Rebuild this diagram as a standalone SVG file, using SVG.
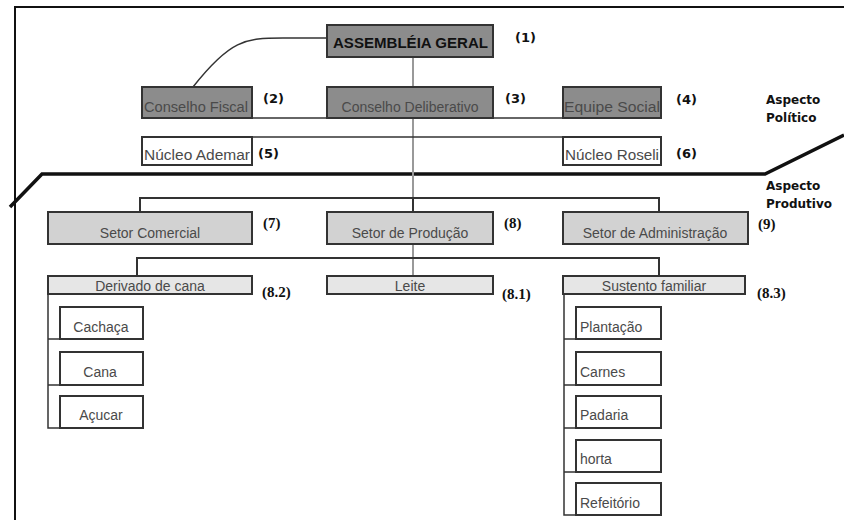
<svg xmlns="http://www.w3.org/2000/svg" width="844" height="520" viewBox="0 0 844 520">
<style>
.box{stroke:#333;stroke-width:2}
.dark{fill:#8c8c8c}
.mid{fill:#d2d2d2}
.light{fill:#e6e6e6}
.white{fill:#fff}
.t{font-family:"Liberation Sans",Arial,sans-serif;fill:#4a4a4a;font-size:14px}
.tb{font-family:"Liberation Sans",Arial,sans-serif;fill:#111;font-size:14px;font-weight:bold}
.num{font-family:"DejaVu Sans",sans-serif;font-weight:bold;font-size:13px;fill:#111}
.nums{font-family:"Liberation Serif","Times New Roman",serif;font-weight:bold;font-size:15px;fill:#111}
.asp{font-family:"DejaVu Sans",sans-serif;font-weight:bold;font-size:12px;fill:#111}
.ln{stroke:#333;stroke-width:2;fill:none}
.gl{stroke:#999;stroke-width:2;fill:none}
.thin{stroke:#333;stroke-width:1.5;fill:none}
</style>
<rect width="844" height="520" fill="#fff"/>
<g id="frame">
<path d="M15,520 V7 H844" stroke="#111" stroke-width="2" fill="none"/>
<path d="M10,207 L42,174 H765 L844,135" stroke="#111" stroke-width="3.5" fill="none"/>
</g>
<g id="connectors">
<path class="thin" d="M327,38 H283 C245,38 230,40 193,87"/>
<path class="gl" d="M413,57 V198"/>
<path class="gl" d="M413,244 V276"/>
<path class="thin" d="M252,118 H563"/>
<path class="thin" d="M252,137 H563"/>
<path class="ln" d="M140,212 V198 H659 V212"/>
<path class="ln" d="M413,198 V212"/>
<path class="ln" d="M137,276 V258 H659 V276"/>
<path class="thin" d="M48,294 V428 H60 M48,339 H60 M48,385 H60"/>
<path class="thin" d="M564,294 V515 H576 M564,339 H576 M564,385 H576 M564,428 H576 M564,472 H576"/>
</g>
<g id="assembleia"><rect class="box dark" x="327" y="25" width="166" height="32"/><text class="tb" x="333" y="48" textLength="155" lengthAdjust="spacingAndGlyphs">ASSEMBLÉIA GERAL</text><text class="num" x="515" y="42">(1)</text></g>
<g id="conselho-fiscal"><rect class="box dark" x="142" y="87" width="110" height="31"/><text class="t" x="144" y="112" textLength="104" lengthAdjust="spacingAndGlyphs">Conselho Fiscal</text><text class="num" x="263" y="103">(2)</text></g>
<g id="conselho-deliberativo"><rect class="box dark" x="327" y="87" width="166" height="31"/><text class="t" x="410" y="112" text-anchor="middle">Conselho Deliberativo</text><text class="num" x="505" y="103">(3)</text></g>
<g id="equipe-social"><rect class="box dark" x="563" y="87" width="98" height="31"/><text class="t" x="564" y="112" textLength="96" lengthAdjust="spacingAndGlyphs">Equipe Social</text><text class="num" x="676" y="104">(4)</text></g>
<g id="nucleo-ademar"><rect class="box white" x="142" y="137" width="110" height="28"/><text class="t" x="144" y="160" textLength="106" lengthAdjust="spacingAndGlyphs">Núcleo Ademar</text><text class="num" x="258" y="158">(5)</text></g>
<g id="nucleo-roseli"><rect class="box white" x="563" y="137" width="98" height="28"/><text class="t" x="565" y="160" textLength="94" lengthAdjust="spacingAndGlyphs">Núcleo Roseli</text><text class="num" x="676" y="158">(6)</text></g>
<g id="aspecto-politico"><text class="asp" x="766" y="104">Aspecto</text><text class="asp" x="766" y="122">Político</text></g>
<g id="aspecto-produtivo"><text class="asp" x="766" y="190">Aspecto</text><text class="asp" x="766" y="208">Produtivo</text></g>
<g id="setor-comercial"><rect class="box mid" x="48" y="212" width="204" height="32"/><text class="t" x="150" y="238" text-anchor="middle" font-size="15">Setor Comercial</text><text class="nums" x="263" y="228">(7)</text></g>
<g id="setor-producao"><rect class="box mid" x="327" y="212" width="166" height="32"/><text class="t" x="410" y="238" text-anchor="middle" font-size="15">Setor de Produção</text><text class="nums" x="504" y="228">(8)</text></g>
<g id="setor-administracao"><rect class="box mid" x="563" y="212" width="185" height="32"/><text class="t" x="655" y="238" text-anchor="middle" font-size="15">Setor de Administração</text><text class="nums" x="758" y="229">(9)</text></g>
<g id="derivado-cana"><rect class="box light" x="48" y="276" width="204" height="18"/><text class="t" x="150" y="291" text-anchor="middle">Derivado de cana</text><text class="nums" x="262" y="297">(8.2)</text></g>
<g id="leite"><rect class="box light" x="327" y="276" width="166" height="18"/><text class="t" x="410" y="291" text-anchor="middle">Leite</text><text class="nums" x="502" y="299">(8.1)</text></g>
<g id="sustento-familiar"><rect class="box light" x="563" y="276" width="182" height="18"/><text class="t" x="654" y="291" text-anchor="middle">Sustento familiar</text><text class="nums" x="757" y="298">(8.3)</text></g>
<g id="cachaca"><rect class="box white" x="60" y="307" width="83" height="32"/><text class="t" x="101" y="332" text-anchor="middle">Cachaça</text></g>
<g id="cana"><rect class="box white" x="60" y="352" width="83" height="33"/><text class="t" x="100" y="377" text-anchor="middle">Cana</text></g>
<g id="acucar"><rect class="box white" x="60" y="396" width="83" height="32"/><text class="t" x="101" y="420" text-anchor="middle">Açucar</text></g>
<g id="plantacao"><rect class="box white" x="576" y="307" width="85" height="32"/><text class="t" x="580" y="332">Plantação</text></g>
<g id="carnes"><rect class="box white" x="576" y="352" width="85" height="33"/><text class="t" x="580" y="377">Carnes</text></g>
<g id="padaria"><rect class="box white" x="576" y="396" width="85" height="32"/><text class="t" x="580" y="420">Padaria</text></g>
<g id="horta"><rect class="box white" x="576" y="440" width="85" height="32"/><text class="t" x="580" y="464">horta</text></g>
<g id="refeitorio"><rect class="box white" x="576" y="483" width="85" height="32"/><text class="t" x="580" y="508">Refeitório</text></g>
</svg>
